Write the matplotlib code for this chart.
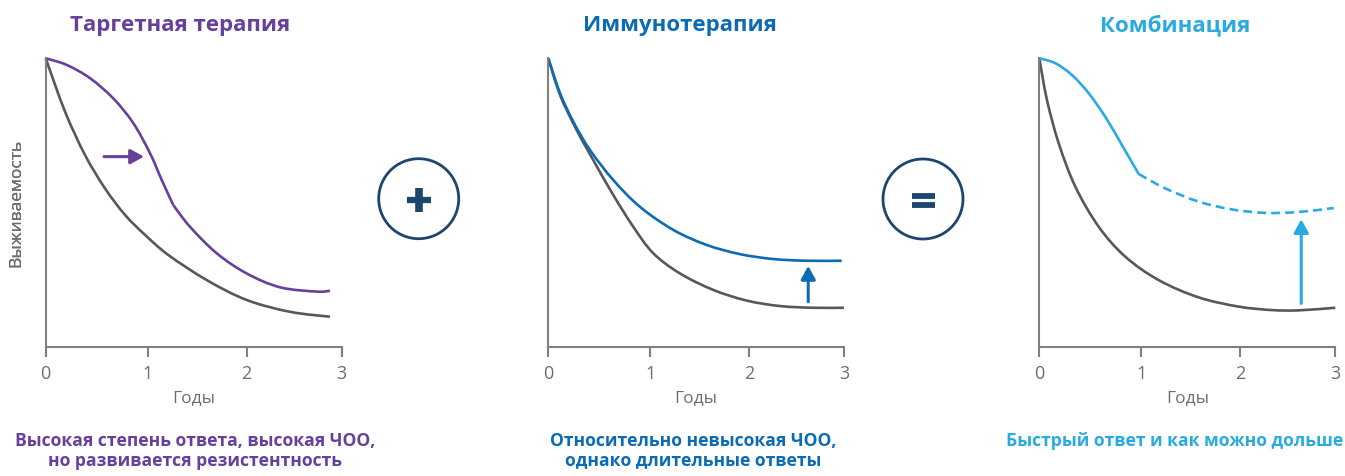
import numpy as np
import matplotlib
matplotlib.use("Agg")
import matplotlib.pyplot as plt
from matplotlib.path import Path
from matplotlib.patches import PathPatch, Circle

plt.rcParams['font.family'] = ['Open Sans', 'DejaVu Sans']

# ---------------- data ----------------
tick_pos = [0, 1.034, 2.037, 3]
tick_labels = ['0', '1', '2', '3']
titles = ['Таргетная терапия', 'Иммунотерапия', 'Комбинация']
captions = [['Высокая степень ответа, высокая ЧОО,', 'но развивается резистентность'],
            ['Относительно невысокая ЧОО,', 'однако длительные ответы'],
            ['Быстрый ответ и как можно дольше']]
xlabel = 'Годы'
ylabel = 'Выживаемость'

# panel 1 – targeted therapy
p1_base_x = [0, 0.196, 0.398, 0.601, 0.804, 1.006, 1.243, 1.632, 2.037, 2.476, 2.881]
p1_base_y = [1.0, 0.815, 0.665, 0.549, 0.457, 0.388, 0.318, 0.231, 0.162, 0.121, 0.104]
p1_pre_x = [0, 0.213, 0.449, 0.685, 0.888, 1.057, 1.176, 1.293]
p1_pre_y = [1.0, 0.977, 0.931, 0.861, 0.775, 0.671, 0.578, 0.491]
p1_post_x = [1.293, 1.462, 1.733, 2.037, 2.375, 2.747, 2.881]
p1_post_y = [0.491, 0.416, 0.324, 0.254, 0.206, 0.191, 0.194]
p1_arrow_x = [0.591, 0.996]
p1_arrow_y = [0.659, 0.659]

# panel 2 – immunotherapy
p2_base_x = [0, 0.119, 0.288, 0.456, 0.659, 0.862, 1.065, 1.336, 1.673, 2.012, 2.350, 2.688, 2.999]
p2_base_y = [1.0, 0.873, 0.751, 0.647, 0.526, 0.416, 0.324, 0.254, 0.197, 0.160, 0.141, 0.135, 0.135]
p2_io_x = [0, 0.119, 0.254, 0.423, 0.659, 0.930, 1.268, 1.606, 1.944, 2.282, 2.621, 2.976]
p2_io_y = [1.0, 0.879, 0.780, 0.682, 0.578, 0.485, 0.405, 0.353, 0.321, 0.304, 0.298, 0.298]
p2_arrow_x = [2.637, 2.637]
p2_arrow_y = [0.156, 0.280]

# panel 3 – combination
p3_base_x = [0, 0.078, 0.197, 0.365, 0.602, 0.872, 1.210, 1.615, 2.021, 2.358, 2.629, 3.0]
p3_base_y = [1.0, 0.855, 0.705, 0.555, 0.416, 0.312, 0.231, 0.171, 0.139, 0.127, 0.126, 0.135]
p3_solid_x = [0, 0.162, 0.331, 0.500, 0.669, 0.838, 1.007]
p3_solid_y = [1.0, 0.983, 0.942, 0.879, 0.797, 0.699, 0.599]
p3_dash_x = [1.007, 1.277, 1.615, 1.953, 2.290, 2.629, 2.984]
p3_dash_y = [0.599, 0.549, 0.503, 0.476, 0.464, 0.467, 0.481]
p3_arrow_x = [2.655, 2.655]
p3_arrow_y = [0.150, 0.442]

# ---------------- styles ----------------
GRAY = '#58585a'
AXC = '#808080'
TXT = '#6d6e71'
PURPLE = '#66409a'
BLUE = '#0b6bb3'
CYAN = '#29abe2'
NAVY = '#1c466e'
W, H = 1345, 476


def smooth_path(xs, ys):
    pts = np.column_stack([xs, ys]).astype(float)
    n = len(pts)
    verts = [pts[0]]
    codes = [Path.MOVETO]
    for i in range(n - 1):
        p0 = pts[i - 1] if i > 0 else pts[i]
        p1 = pts[i]
        p2 = pts[i + 1]
        p3 = pts[i + 2] if i + 2 < n else pts[i + 1]
        c1 = p1 + (p2 - p0) / 6.0
        c2 = p2 - (p3 - p1) / 6.0
        verts += [c1, c2, p2]
        codes += [Path.CURVE4] * 3
    return Path(verts, codes)


def curve(ax, xs, ys, color, ls='-'):
    patch = PathPatch(smooth_path(xs, ys), facecolor='none', edgecolor=color,
                      lw=1.9, linestyle=ls, clip_on=False, capstyle='butt',
                      joinstyle='round')
    ax.add_patch(patch)
    return patch


def arrow(ax, xs, ys, color):
    ax.annotate('', xy=(xs[1], ys[1]), xytext=(xs[0], ys[0]),
                arrowprops=dict(arrowstyle='-|>,head_length=0.4,head_width=0.22',
                                color=color, lw=2.2, mutation_scale=20,
                                shrinkA=0, shrinkB=0))


fig = plt.figure(figsize=(W / 100, H / 100), dpi=100)

lefts = [45.7, 548.3, 1039.3]
widths = [296, 295.7, 296]
ax_bottom, ax_top = 346.7, 58.3
axes = []
for l, w in zip(lefts, widths):
    ax = fig.add_axes([l / W, (H - ax_bottom) / H, w / W, (ax_bottom - ax_top) / H])
    ax.set_xlim(0, 3)
    ax.set_ylim(0, 1)
    for s in ['top', 'right']:
        ax.spines[s].set_visible(False)
    for s in ['left', 'bottom']:
        ax.spines[s].set_color(AXC)
        ax.spines[s].set_linewidth(1.5)
    ax.set_xticks(tick_pos)
    ax.set_xticklabels(tick_labels)
    ax.set_yticks([])
    ax.tick_params(axis='x', length=7, width=1.5, color=AXC, labelcolor=TXT,
                   labelsize=13, pad=6)
    ax.set_xlabel(xlabel, fontsize=12.5, color=TXT)
    ax.xaxis.set_label_coords(0.5, -0.178)
    ax.xaxis.label.set_va('center')
    ax.set_ylabel(ylabel, fontsize=12.5, color=TXT)
    ax.yaxis.set_label_coords((16 - l) / w, 0.5)
    ax.yaxis.label.set_va('center')
    axes.append(ax)

a1, a2, a3 = axes
curve(a1, p1_base_x, p1_base_y, GRAY)
curve(a1, p1_pre_x, p1_pre_y, PURPLE)
curve(a1, p1_post_x, p1_post_y, PURPLE)
arrow(a1, p1_arrow_x, p1_arrow_y, PURPLE)

curve(a2, p2_base_x, p2_base_y, GRAY)
curve(a2, p2_io_x, p2_io_y, BLUE)
arrow(a2, p2_arrow_x, p2_arrow_y, BLUE)

curve(a3, p3_base_x, p3_base_y, GRAY)
curve(a3, p3_solid_x, p3_solid_y, CYAN)
curve(a3, p3_dash_x, p3_dash_y, CYAN, ls=(0, (3.4, 1.9)))
arrow(a3, p3_arrow_x, p3_arrow_y, CYAN)

# overlay in pixel coordinates for titles, captions and operators
ov = fig.add_axes([0, 0, 1, 1], zorder=-1)
ov.set_xlim(0, W)
ov.set_ylim(H, 0)
ov.axis('off')

colors = [PURPLE, BLUE, CYAN]
title_x = [179.7, 679.5, 1175.5]
cap_x = [195.5, 692.8, 1174.5]
for t, c, tx, cx, cap in zip(titles, colors, title_x, cap_x, captions):
    ov.text(tx, 31.5, t, ha='center', va='baseline', fontsize=16,
            fontweight='bold', color=c)
    for k, line in enumerate(cap):
        ov.text(cx, 446 + 19.5 * k, line, ha='center', va='baseline',
                fontsize=12.6, fontweight='bold', color=c)

# operator circles
for cx, cy in [(418.7, 198.7), (923, 199)]:
    ov.add_patch(Circle((cx, cy), 40, facecolor='none', edgecolor=NAVY, lw=2.0))
ov.plot([407, 431], [199.5, 199.5], color=NAVY, lw=4.5, solid_capstyle='butt')
ov.plot([419, 419], [188, 212], color=NAVY, lw=5.5, solid_capstyle='butt')
ov.plot([912, 935], [195.5, 195.5], color=NAVY, lw=4.2, solid_capstyle='butt')
ov.plot([912, 935], [204.5, 204.5], color=NAVY, lw=4.2, solid_capstyle='butt')

fig.savefig('out.png', dpi=100)
